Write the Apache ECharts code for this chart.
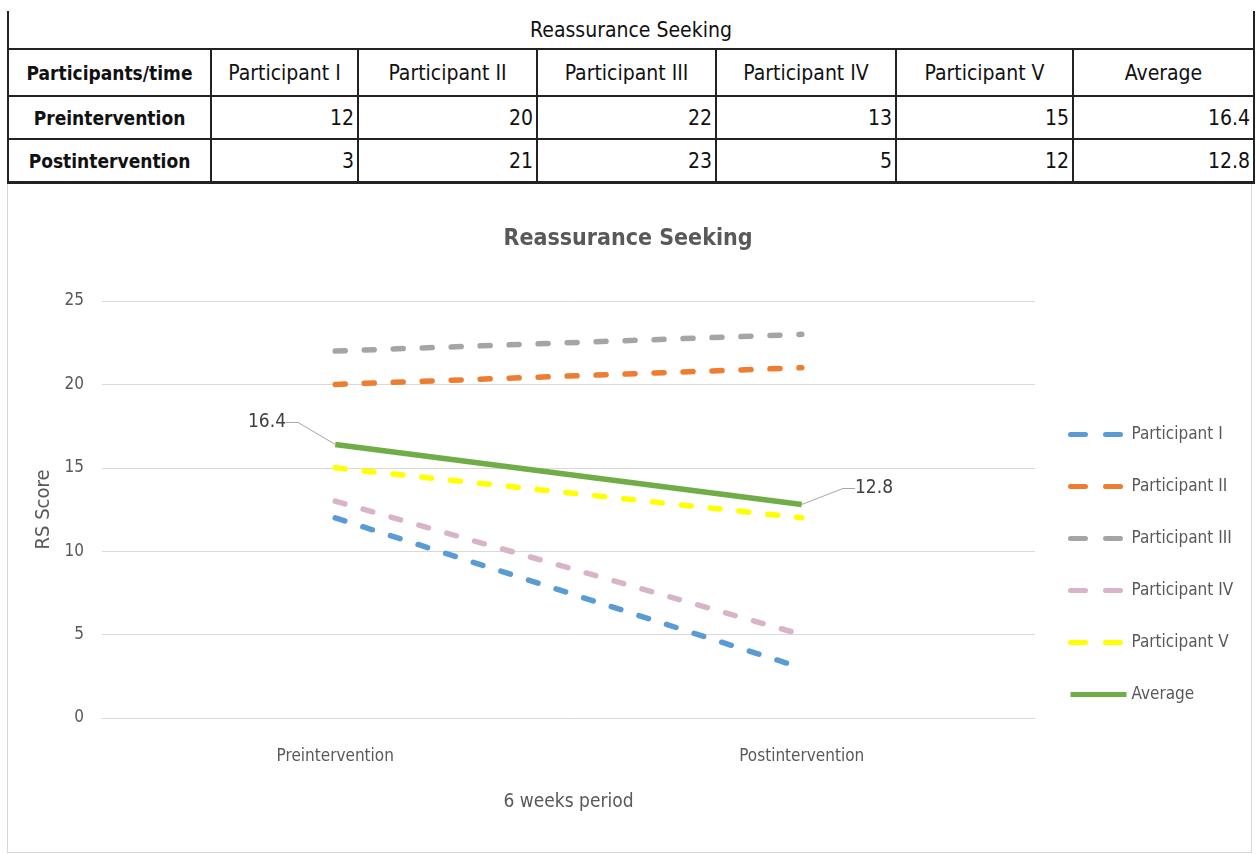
<!DOCTYPE html>
<html>
<head>
<meta charset="utf-8">
<title>Reassurance Seeking</title>
<script src="https://cdn.jsdelivr.net/npm/echarts@6/dist/echarts.min.js"></script>
<style>
  html, body { margin: 0; padding: 0; background: #fff; }
  #frame {
    position: absolute; left: 7px; top: 182px; width: 1245px; height: 671px;
    border: 1px solid #d9d9d9; border-top: none; box-sizing: border-box;
  }
  #chart { position: absolute; left: 0; top: 0; width: 1256px; height: 854px; }
  #scoreTable {
    position: absolute; left: 7px; top: 11px; width: 1246px;
    border-collapse: collapse; table-layout: fixed;
    font-family: "Liberation Sans Narrow", "DejaVu Sans Condensed", sans-serif;
    font-size: 21px; color: #111;
  }
  #scoreTable td { border: 2px solid #222; padding: 0 3px; white-space: nowrap; overflow: hidden; }
  #scoreTable tr.caption td { border-top: none; text-align: center; height: 37px; }
  #scoreTable tr.head td { text-align: center; height: 45px; }
  #scoreTable tr.row td { text-align: right; height: 41px; }
  #scoreTable tr.row:last-child td { border-bottom-width: 3px; }
  #scoreTable td.rowhead { font-weight: bold; font-size: 19px; text-align: center !important; }
</style>
</head>
<body>
<div id="frame"></div>
<table id="scoreTable"></table>
<div id="chart"></div>
<script>
// Time points and participants
const timePoints = ['Preintervention', 'Postintervention'];
const participantNames = ['Participant I', 'Participant II', 'Participant III', 'Participant IV', 'Participant V'];
const averageName = 'Average';
const yTicks = [0, 5, 10, 15, 20, 25];

// RS scores per participant: [pre, post]
const scoresI   = [12, 3];
const scoresII  = [20, 21];
const scoresIII = [22, 23];
const scoresIV  = [13, 5];
const scoresV   = [15, 12];
const averageScores = [16.4, 12.8];

const participantScores = [scoresI, scoresII, scoresIII, scoresIV, scoresV];
const participantColors = ['#5B9BD5', '#ED7D31', '#A5A5A5', '#D8B4C9', '#FFFF00'];
const averageColor = '#70AD47';

// ---- summary table ----
(function buildTable() {
  const colWidths = [203, 147, 179, 179, 180, 177, 181];
  const table = document.getElementById('scoreTable');
  const cg = document.createElement('colgroup');
  colWidths.forEach(w => { const c = document.createElement('col'); c.style.width = w + 'px'; cg.appendChild(c); });
  table.appendChild(cg);

  const cap = document.createElement('tr'); cap.className = 'caption';
  const capCell = document.createElement('td'); capCell.colSpan = 7; capCell.textContent = 'Reassurance Seeking';
  cap.appendChild(capCell); table.appendChild(cap);

  const head = document.createElement('tr'); head.className = 'head';
  const h0 = document.createElement('td'); h0.className = 'rowhead'; h0.textContent = 'Participants/time'; head.appendChild(h0);
  participantNames.concat([averageName]).forEach(n => {
    const td = document.createElement('td'); td.textContent = n; head.appendChild(td);
  });
  table.appendChild(head);

  timePoints.forEach((tp, i) => {
    const tr = document.createElement('tr'); tr.className = 'row';
    const th = document.createElement('td'); th.className = 'rowhead'; th.textContent = tp; tr.appendChild(th);
    participantScores.forEach(s => { const td = document.createElement('td'); td.textContent = s[i]; tr.appendChild(td); });
    const av = document.createElement('td'); av.textContent = averageScores[i].toFixed(1); tr.appendChild(av);
    table.appendChild(tr);
  });
})();

// ---- line chart ----
const FONT = '"Liberation Sans Narrow", "DejaVu Sans Condensed", sans-serif';
const TEXT_GREY = '#595959';

const chart = echarts.init(document.getElementById('chart'), null, { renderer: 'canvas' });

const dashedSeries = participantNames.map((name, i) => ({
  name: name,
  type: 'line',
  data: participantScores[i],
  symbol: 'none',
  z: 2,
  lineStyle: { color: participantColors[i], width: 5.5, type: [10, 19], cap: 'round' },
  itemStyle: { color: participantColors[i] },
  emphasis: { disabled: true }
}));

const averageSeries = {
  name: averageName,
  type: 'line',
  data: averageScores.map((v, i) => ({
    value: v,
    label: { position: i === 0 ? 'left' : 'right' }
  })),
  symbol: 'circle',
  symbolSize: 0.5,
  z: 3,
  lineStyle: { color: averageColor, width: 5.5, type: 'solid' },
  itemStyle: { color: averageColor },
  emphasis: { disabled: true },
  label: {
    show: true,
    color: '#404040',
    fontFamily: FONT,
    fontSize: 19,
    formatter: p => p.value.toFixed(1),
    distance: 5
  },
  labelLayout: function (params) {
    return params.dataIndex === 0
      ? { dx: -44, dy: -22 }
      : { dx: 48, dy: -16 };
  },
  labelLine: {
    show: true,
    length2: 12,
    lineStyle: { color: '#a6a6a6', width: 1 }
  }
};

// legend icons: two dashes for participants, one solid stroke for the average
const legendData = participantNames.map((n, i) => ({
  name: n,
  itemStyle: { opacity: 0 },
  lineStyle: { color: participantColors[i], width: 5, type: [15, 20], cap: 'round' }
})).concat([{
  name: averageName,
  itemStyle: { opacity: 0 },
  lineStyle: { color: averageColor, width: 5, type: 'solid' }
}]);

chart.setOption({
  animation: false,
  backgroundColor: 'transparent',
  textStyle: { fontFamily: FONT },
  title: {
    text: 'Reassurance Seeking',
    left: 'center',
    top: 223,
    textStyle: { fontFamily: FONT, fontSize: 23, fontWeight: 'bold', color: TEXT_GREY }
  },
  grid: { left: 102, right: 221, top: 301, bottom: 136, containLabel: false },
  legend: {
    orient: 'vertical',
    left: 1068,
    top: 426,
    padding: 0,
    itemWidth: 56,
    itemHeight: 14,
    itemGap: 35,
    itemStyle: { opacity: 0 },
    textStyle: { fontFamily: FONT, fontSize: 17, color: TEXT_GREY },
    data: legendData,
    selectedMode: false
  },
  xAxis: {
    type: 'category',
    data: timePoints,
    boundaryGap: true,
    name: '6 weeks period',
    nameLocation: 'middle',
    nameGap: 75,
    nameTextStyle: { fontFamily: FONT, fontSize: 19, color: TEXT_GREY },
    axisLine: { show: true, lineStyle: { color: '#d9d9d9', width: 1 } },
    axisTick: { show: false },
    axisLabel: { fontFamily: FONT, fontSize: 17, color: TEXT_GREY, margin: 30 }
  },
  yAxis: {
    type: 'value',
    min: yTicks[0],
    max: yTicks[yTicks.length - 1],
    interval: yTicks[1] - yTicks[0],
    name: 'RS Score',
    nameLocation: 'middle',
    nameGap: 42,
    nameRotate: 90,
    nameTextStyle: { fontFamily: FONT, fontSize: 20, color: TEXT_GREY },
    axisLine: { show: false },
    axisTick: { show: false },
    axisLabel: { fontFamily: FONT, fontSize: 17, color: TEXT_GREY, margin: 18 },
    splitLine: { lineStyle: { color: '#d9d9d9', width: 1 } }
  },
  series: dashedSeries.concat([averageSeries])
});
</script>
</body>
</html>
